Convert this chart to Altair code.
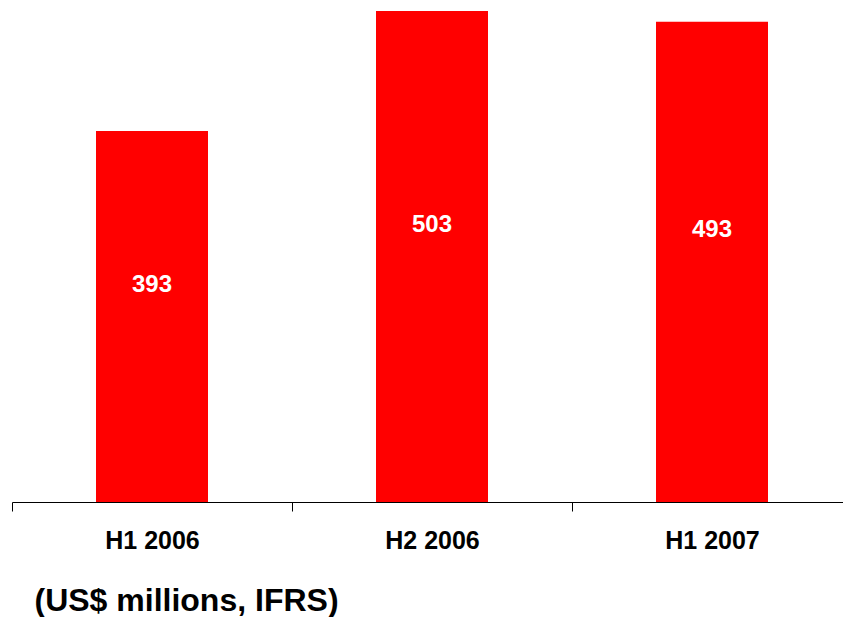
import altair as alt
import pandas as pd

# Half-year results, US$ millions (IFRS)
periods = ["H1 2006", "H2 2006", "H1 2007"]
values = [393, 503, 493]

Y_MIN = 53
Y_MAX = 513
FONT = "Liberation Sans"
RED = "#FF0000"

df = pd.DataFrame({"period": periods, "value": values})

x_enc = alt.X(
    "period:N",
    sort=periods,
    scale=alt.Scale(range=[0, 840], paddingInner=0, paddingOuter=0),
    axis=alt.Axis(
        title="(US$ millions, IFRS)",
        titleFont=FONT,
        titleFontSize=32,
        titleFontWeight="bold",
        titleColor="black",
        titleAlign="left",
        titleBaseline="alphabetic",
        titleX=22,
        titleY=108,
        labelFont=FONT,
        labelFontSize=25,
        labelFontWeight="bold",
        labelColor="black",
        labelAngle=0,
        labelPadding=17,
        tickBand="extent",
        tickSize=9,
        tickColor="black",
        domainColor="black",
        grid=False,
    ),
)

y_scale = alt.Scale(domain=[Y_MIN, Y_MAX], zero=False, nice=False)

bars = (
    alt.Chart(df)
    .mark_bar(color=RED, width=alt.RelativeBandSize(0.4))
    .encode(
        x=x_enc,
        y=alt.Y("value:Q", scale=y_scale, axis=None),
        y2=alt.datum(Y_MIN),
    )
)

labels = (
    alt.Chart(df)
    .transform_calculate(label_y=f"datum.value / 2 + {Y_MIN}")
    .mark_text(
        font=FONT,
        fontSize=24,
        fontWeight="bold",
        color="white",
        baseline="middle",
        align="center",
        dy=-2.5,
    )
    .encode(
        x=alt.X("period:N", sort=periods),
        y=alt.Y("label_y:Q", scale=y_scale, axis=None),
        text=alt.Text("value:Q"),
    )
)

chart = (
    alt.layer(bars, labels)
    .properties(
        width=831,
        height=502,
        autosize=alt.AutoSizeParams(type="none"),
        padding={"left": 12, "top": 0, "right": 0, "bottom": 115},
        background="white",
    )
    .configure_view(stroke=None)
)

chart.save("out.html", embed_options={"renderer": "svg", "actions": False})
